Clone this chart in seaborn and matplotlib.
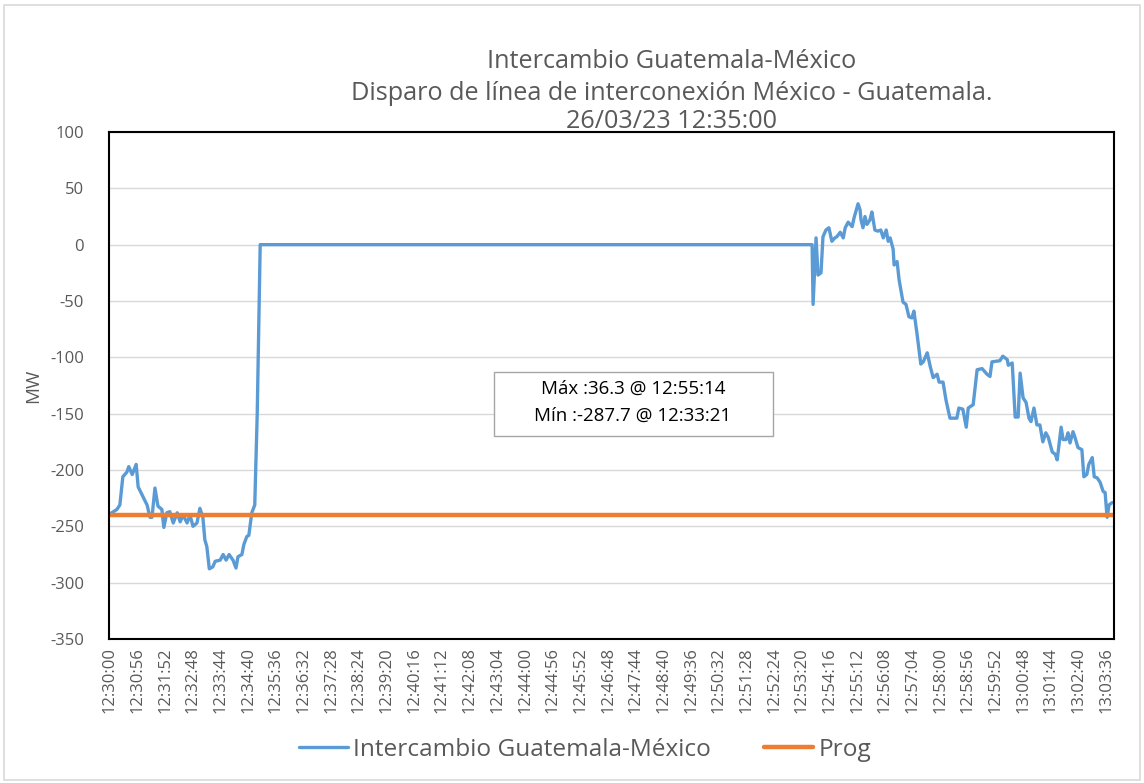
import matplotlib
matplotlib.use("Agg")
import matplotlib.pyplot as plt
import seaborn as sns
import pandas as pd
from matplotlib.patches import Rectangle

# ---------------- data ----------------
# seconds after 12:30:00
t_sec = [0, 14, 20, 26, 34, 38, 45, 53, 57, 67, 75, 81, 85, 91, 97, 105, 109, 115, 121,
         128, 136, 142, 148, 156, 162, 168, 176, 182, 188, 192, 196, 201, 208, 213, 223,
         229, 235, 241, 249, 255, 259, 267, 271, 277, 281, 287, 293, 298, 304,
         1421, 1423, 1429, 1433, 1439, 1443, 1449, 1455, 1461, 1467, 1471, 1478, 1484,
         1488, 1494, 1502, 1506, 1514, 1518, 1520, 1524, 1528, 1532, 1538, 1542, 1548,
         1554, 1560, 1565, 1571, 1575, 1579, 1585, 1587, 1593, 1597, 1605, 1611, 1617,
         1623, 1627, 1633, 1641, 1646, 1654, 1660, 1666, 1674, 1678, 1686, 1692, 1700,
         1714, 1718, 1726, 1733, 1737, 1747, 1755, 1765, 1775, 1781, 1785, 1801, 1807,
         1816, 1818, 1826, 1832, 1838, 1842, 1848, 1854, 1860, 1864, 1870, 1876, 1882,
         1888, 1894, 1899, 1907, 1913, 1917, 1925, 1929, 1935, 1939, 1943, 1949, 1953,
         1959, 1967, 1971, 1977, 1981, 1988, 1992, 1998, 2004, 2010, 2014, 2018, 2022,
         2028, 2032]
intercambio_mw = [-239, -235, -231, -206, -202, -197, -204, -195, -215, -224, -231, -242,
                  -242, -216, -232, -235, -251, -238, -237, -247, -238, -246, -240, -247,
                  -240, -250, -247, -234, -242, -262, -268, -287.7, -286, -281, -280, -275,
                  -280, -275, -280, -287, -277, -275, -266, -259, -258, -238, -231, -150, 0,
                  0, -53, 6, -27, -25, 7, 13, 15, 3, 6, 7, 11, 6,
                  15, 20, 16, 24, 36.3, 31, 22, 15, 25, 18, 22, 29, 13,
                  12, 13, 6, 13, 3, 6, -4, -18, -15, -31, -51, -53, -64,
                  -65, -59, -78, -106, -104, -96, -108, -118, -115, -122, -122, -138, -154,
                  -154, -145, -146, -162, -145, -142, -111, -110, -115, -117, -104, -103, -99,
                  -102, -107, -105, -153, -153, -114, -136, -140, -154, -157, -145, -160, -160,
                  -175, -167, -171, -184, -186, -191, -162, -173, -173, -167, -176, -166, -171,
                  -180, -182, -206, -204, -195, -189, -206, -207, -211, -219, -220, -242, -231,
                  -229, -229]
prog_mw = -240

tick_labels = ["12:30:00", "12:30:56", "12:31:52", "12:32:48", "12:33:44", "12:34:40",
               "12:35:36", "12:36:32", "12:37:28", "12:38:24", "12:39:20", "12:40:16",
               "12:41:12", "12:42:08", "12:43:04", "12:44:00", "12:44:56", "12:45:52",
               "12:46:48", "12:47:44", "12:48:40", "12:49:36", "12:50:32", "12:51:28",
               "12:52:24", "12:53:20", "12:54:16", "12:55:12", "12:56:08", "12:57:04",
               "12:58:00", "12:58:56", "12:59:52", "13:00:48", "13:01:44", "13:02:40",
               "13:03:36"]
tick_step_sec = 56
y_ticks = [100, 50, 0, -50, -100, -150, -200, -250, -300, -350]

title_lines = ["Intercambio Guatemala-México",
               "Disparo de línea de interconexión México - Guatemala.",
               "26/03/23 12:35:00"]
series_names = ["Intercambio Guatemala-México", "Prog"]
annot_lines = ["Máx :36.3 @ 12:55:14", "Mín :-287.7 @ 12:33:21"]

# ---------------- plot ----------------
sns.set_style("white")
plt.rcParams["font.family"] = ["Open Sans", "DejaVu Sans"]

W, H = 1144, 783
fig = plt.figure(figsize=(W / 100, H / 100), dpi=100)
ax = fig.add_axes([109 / W, 1 - 639 / H, (1114 - 109) / W, (639 - 132) / H])

blue = "#5B9BD5"
orange = "#ED7D31"
txt = "#595959"

df = pd.DataFrame({"t": t_sec, "mw": intercambio_mw})
prog_df = pd.DataFrame({"t": [min(t_sec), max(t_sec)], "mw": [prog_mw, prog_mw]})

sns.lineplot(data=df, x="t", y="mw", ax=ax, color=blue, linewidth=2.4,
             label=series_names[0], legend=False)
sns.lineplot(data=prog_df, x="t", y="mw", ax=ax, color=orange, linewidth=3.2,
             label=series_names[1], legend=False)

ax.set_xlim(-2, 2032)
ax.set_ylim(-350, 100)
ax.set_yticks(y_ticks)
ax.set_yticklabels([str(v) for v in y_ticks], fontsize=12, color=txt)
ax.set_xticks([i * tick_step_sec for i in range(len(tick_labels))])
ax.set_xticklabels(tick_labels, rotation=90, fontsize=12, color=txt)
ax.tick_params(axis="both", length=0, pad=6)
ax.tick_params(axis="y", pad=18)
ax.grid(axis="y", color="#D9D9D9", linewidth=1)
ax.set_axisbelow(True)
for s in ax.spines.values():
    s.set_visible(True)
    s.set_color("black")
    s.set_linewidth(1.5)
ax.set_xlabel("")
ax.set_ylabel("MW", fontsize=13.5, color=txt, labelpad=6)

# titles
ys = [62, 93, 122]
for line, yy in zip(title_lines, ys):
    fig.text(672 / W, 1 - yy / H, line, ha="center", va="center", fontsize=18.2,
             color=txt)

# annotation box
fig.patches.append(Rectangle((494 / W, 1 - 436 / H), (773 - 494) / W, (436 - 372) / H,
                             transform=fig.transFigure, facecolor="white",
                             edgecolor="#A6A6A6", linewidth=1, zorder=5))
fig.text(633 / W, 1 - 389 / H, annot_lines[0], ha="center", va="center", fontsize=13.5,
         color="black", zorder=6)
fig.text(633 / W, 1 - 416 / H, annot_lines[1], ha="center", va="center", fontsize=13.5,
         color="black", zorder=6)

# outer chart border
fig.patches.append(Rectangle((4 / W, 1 - 780 / H), (1140 - 4) / W, (780 - 5) / H,
                             transform=fig.transFigure, facecolor="none",
                             edgecolor="#D9D9D9", linewidth=1.2))

handles, labels = ax.get_legend_handles_labels()
fig.legend(handles, labels, loc="center", bbox_to_anchor=(585 / W, 1 - 750 / H), ncol=2,
           frameon=False, fontsize=17.6, handlelength=2.0, handletextpad=0.2,
           columnspacing=2.2, labelcolor=txt)

fig.savefig("out.png", dpi=100)
